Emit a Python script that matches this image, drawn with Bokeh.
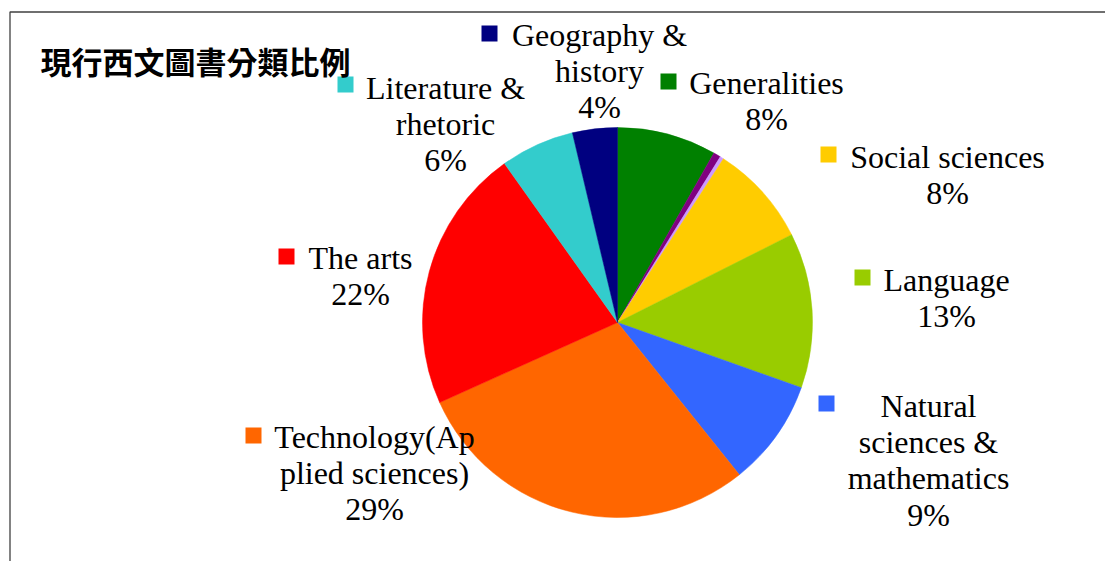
import math
from bokeh.plotting import figure
from bokeh.models import Range1d, ColumnDataSource
from bokeh.core.properties import value
from bokeh.embed import file_html
from bokeh.resources import INLINE

# ---- data ----
title = "現行西文圖書分類比例"
categories = ["Generalities", "Philosophy & psychology", "Religion", "Social sciences",
              "Language", "Natural sciences & mathematics", "Technology(Applied sciences)",
              "The arts", "Literature & rhetoric", "Geography & history"]
values = [8.2, 0.6, 0.3, 8.4, 12.8, 8.8, 28.9, 21.8, 6.1, 3.7]
colors = ["#008000", "#800080", "#CC99FF", "#FFCC00", "#99CC00", "#3366FF",
          "#FF6600", "#FF0000", "#33CCCC", "#000080"]
# wrapped label lines as shown on the chart (None = no label shown)
wrapped = [["Generalities"], None, None, ["Social sciences"], ["Language"],
           ["Natural", "sciences &", "mathematics"], ["Technology(Ap", "plied sciences)"],
           ["The arts"], ["Literature &", "rhetoric"], ["Geography &", "history"]]

# ---- layout (pixel coordinates, y measured from top) ----
W, H = 1105, 561
CX, CY, R = 617, 322, 195
label_pos = {  # text centre x, first line y, key square x, key square y
    0: (766, 82, 668, 81),
    3: (947, 156, 828, 154),
    4: (946, 279, 862, 277),
    5: (928, 405, 826, 403),
    6: (374, 436, 253, 435),
    7: (360, 257, 286, 256),
    8: (445, 87, 345, 84),
    9: (599, 34, 489, 33),
}
LINE = 36.4

def Y(py):
    return H - py

p = figure(width=W, height=H, x_range=Range1d(0, W), y_range=Range1d(0, H),
           output_backend="svg", toolbar_location=None, min_border=0)
p.axis.visible = False
p.grid.visible = False
p.outline_line_color = None
p.background_fill_color = "white"
p.border_fill_color = "white"

# chart-area frame
p.quad(left=[9.5], right=[W + 50], top=[Y(11.5)], bottom=[-50],
       fill_color=None, line_color="#404040", line_width=1.3)

# pie wedges
total = sum(values)
starts, ends = [], []
cum = 0.0
for v in values:
    starts.append(math.pi / 2 - 2 * math.pi * cum / total)
    cum += v
    ends.append(math.pi / 2 - 2 * math.pi * cum / total)
src = ColumnDataSource(dict(x=[CX] * len(values), y=[Y(CY)] * len(values),
                            start=starts, end=ends, color=colors))
p.wedge(x="x", y="y", radius=R, start_angle="start", end_angle="end",
        direction="clock", fill_color="color", line_color="color", line_width=0.5,
        source=src)

# labels
tx, ty, tt = [], [], []
sx, sy, sc = [], [], []
for i, lines in enumerate(wrapped):
    if lines is None:
        continue
    cx, y0, qx, qy = label_pos[i]
    pct = f"{round(values[i] / total * 100)}%"
    for k, line in enumerate(lines + [pct]):
        tx.append(cx)
        ty.append(Y(y0 + k * LINE))
        tt.append(line)
    sx.append(qx)
    sy.append(Y(qy))
    sc.append(colors[i])

p.rect(x=sx, y=sy, width=16, height=16, fill_color=sc, line_color=None)
p.text(x=tx, y=ty, text=tt, text_font=value("Liberation Serif"),
       text_font_size="32px", text_align="center", text_baseline="middle",
       text_color="black")

# title
p.text(x=[40], y=[Y(60)], text=[title], text_font=value("Noto Sans CJK TC"),
       text_font_size="31px", text_font_style="bold", text_align="left",
       text_baseline="middle", text_color="black")

open("out.html", "w").write(file_html(p, INLINE))
